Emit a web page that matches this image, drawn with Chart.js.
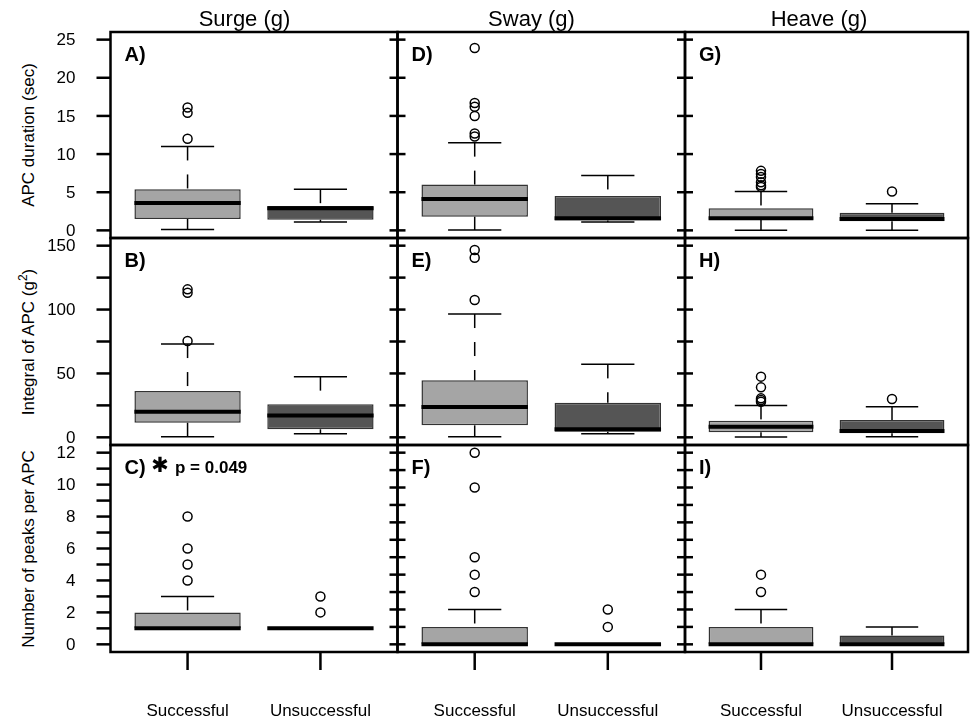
<!DOCTYPE html>
<html>
<head>
<meta charset="utf-8">
<script src="https://cdn.jsdelivr.net/npm/chart.js@4"></script>
<style>
  body { margin: 0; background: #fff; }
  #wrap { position: relative; width: 974px; height: 719px; overflow: hidden; }
  #wrap canvas { position: absolute; left: 0; top: 0; }
  .ytitle {
    position: absolute; left: 28px;
    transform: translate(-50%, -50%) rotate(-90deg);
    white-space: nowrap; font: 17px "Liberation Sans", Arial, sans-serif; line-height: 17px; color: #000;
  }
  .ytitle sup { font-size: 12px; line-height: 0; vertical-align: 7px; }
</style>
</head>
<body>
<div id="wrap"></div>
<script>
// groups on the x axis, motion axes as columns, measures as rows
const groups = ["Successful", "Unsuccessful"];
const motions = ["Surge (g)", "Sway (g)", "Heave (g)"];
const measures = ["APC duration (sec)", "Integral of APC (g<sup>2</sup>)", "Number of peaks per APC"];

// [lower whisker, Q1, median, Q3, upper whisker] for Successful, Unsuccessful
const durSurge = [[0.1, 1.5, 3.6, 5.4, 11.0], [1.1, 1.4, 2.9, 3.2, 5.4]];
const durSurgeOut = [[12.0, 15.4, 16.1], []];
const durSway = [[0.05, 1.8, 4.1, 6.0, 11.5], [1.1, 1.3, 1.6, 4.5, 7.2]];
const durSwayOut = [[12.3, 12.7, 15.0, 16.2, 16.7, 23.9], []];
const durHeave = [[0.0, 1.4, 1.6, 2.9, 5.1], [0.0, 1.2, 1.5, 2.3, 3.5]];
const durHeaveOut = [[5.7, 5.9, 6.3, 7.0, 7.4, 7.8], [5.1]];

const intSurge = [[0.5, 11.5, 20.1, 36.3, 73.0], [2.9, 6.3, 17.0, 25.8, 47.5]];
const intSurgeOut = [[75.4, 113.2, 115.8], []];
const intSway = [[0.5, 9.4, 23.7, 44.6, 96.5], [2.9, 4.4, 6.3, 27.1, 57.1]];
const intSwayOut = [[107.5, 140.6, 146.6], []];
const intHeave = [[0.3, 3.9, 8.3, 13.0, 25.0], [0.5, 3.1, 5.0, 13.6, 24.0]];
const intHeaveOut = [[27.9, 29.2, 30.5, 39.1, 47.5], [30.0]];

const peakSurge = [[1, 1, 1, 2, 3], [1, 1, 1, 1, 1]];
const peakSurgeOut = [[4, 5, 6, 8], [2, 3]];
const peakSway = [[0, 0, 0, 1, 2], [0, 0, 0, 0, 0]];
const peakSwayOut = [[3, 4, 5, 9, 11], [1, 2]];
const peakHeave = [[0, 0, 0, 1, 2], [0, 0, 0, 0.5, 1]];
const peakHeaveOut = [[3, 4], []];

// y axis ticks
const durationTicks = [0, 5, 10, 15, 20, 25];
const integralTicks = [0, 25, 50, 75, 100, 125, 150];
const integralLabels = [0, 50, 100, 150];
const peaksTicks = [0, 1, 2, 3, 4, 5, 6, 7, 8, 9, 10, 11, 12];
const peaksLabels = [0, 2, 4, 6, 8, 10, 12];
const peaksTicksSmall = [0, 1, 2, 3, 4, 5, 6, 7, 8, 9, 10, 11];

const W = 974, H = 719;
const colEdges = [110.5, 397.5, 685, 972];
const rowEdges = [32, 238, 445, 652];
const FONT = '"Liberation Sans", Arial, sans-serif';

const rowAxes = [
  { min: -1, max: 26, ticks: durationTicks, labels: durationTicks },
  { min: -6, max: 156, ticks: integralTicks, labels: integralLabels },
  { min: -0.48, max: 12.48, ticks: peaksTicks, labels: peaksLabels },
];
const smallPeaksAxis = { min: -0.44, max: 11.44, ticks: peaksTicksSmall, labels: [] };

const panels = [
  { letter: "A)", row: 0, col: 0, stats: durSurge, out: durSurgeOut },
  { letter: "D)", row: 0, col: 1, stats: durSway, out: durSwayOut },
  { letter: "G)", row: 0, col: 2, stats: durHeave, out: durHeaveOut },
  { letter: "B)", row: 1, col: 0, stats: intSurge, out: intSurgeOut },
  { letter: "E)", row: 1, col: 1, stats: intSway, out: intSwayOut },
  { letter: "H)", row: 1, col: 2, stats: intHeave, out: intHeaveOut },
  { letter: "C)", row: 2, col: 0, stats: peakSurge, out: peakSurgeOut, note: "p = 0.049" },
  { letter: "F)", row: 2, col: 1, stats: peakSway, out: peakSwayOut },
  { letter: "I)", row: 2, col: 2, stats: peakHeave, out: peakHeaveOut },
];

const wrap = document.getElementById("wrap");

// row titles as html (for the superscript)
measures.forEach((m, r) => {
  const d = document.createElement("div");
  d.className = "ytitle";
  d.style.top = (rowEdges[r] + rowEdges[r + 1]) / 2 + "px";
  d.innerHTML = m;
  wrap.appendChild(d);
});

function line(ctx, x0, y0, x1, y1) {
  ctx.beginPath();
  ctx.moveTo(x0, y0);
  ctx.lineTo(x1, y1);
  ctx.stroke();
}

function panelPlugin(p, axis) {
  return {
    id: "panel" + p.row + p.col,
    beforeDatasetsDraw(chart) {
      const { ctx, scales: { x, y } } = chart;
      const capHalf = x.getPixelForValue(1.2) - x.getPixelForValue(1);
      ctx.save();
      ctx.strokeStyle = "#000";
      ctx.lineWidth = 1.5;
      p.stats.forEach((s, i) => {
        const cx = x.getPixelForValue(i + 1);
        [[s[4], s[3]], [s[0], s[1]]].forEach(([end, hinge]) => {
          const y0 = y.getPixelForValue(end);
          const y1 = y.getPixelForValue(hinge);
          if (Math.abs(y1 - y0) > 0.5) {
            ctx.setLineDash([14, 14]);
            line(ctx, cx, y0, cx, y1);
          }
          ctx.setLineDash([]);
          line(ctx, cx - capHalf, y0, cx + capHalf, y0);
        });
      });
      ctx.restore();
    },
    afterDatasetsDraw(chart) {
      const { ctx, scales: { x, y } } = chart;
      const boxHalf = x.getPixelForValue(1.4) - x.getPixelForValue(1);
      ctx.save();
      ctx.strokeStyle = "#000";
      ctx.lineWidth = 4;
      p.stats.forEach((s, i) => {
        const cx = x.getPixelForValue(i + 1);
        const my = y.getPixelForValue(s[2]);
        line(ctx, cx - boxHalf, my, cx + boxHalf, my);
      });
      ctx.restore();
    },
    afterDraw(chart) {
      const { ctx, chartArea: a, scales: { x, y } } = chart;
      ctx.save();
      ctx.strokeStyle = "#000";
      ctx.fillStyle = "#000";
      ctx.lineWidth = 2.5;
      ctx.strokeRect(a.left, a.top, a.right - a.left, a.bottom - a.top);

      // y ticks
      axis.ticks.forEach((t) => {
        const ty = y.getPixelForValue(t);
        if (p.col === 0) line(ctx, a.left - 14, ty, a.left, ty);
        else line(ctx, a.left - 8, ty, a.left + 8, ty);
      });
      if (p.col === 0) {
        ctx.font = "17px " + FONT;
        ctx.textAlign = "right";
        ctx.textBaseline = "middle";
        axis.labels.forEach((t) => {
          ctx.fillText(String(t), a.left - 35, y.getPixelForValue(t) + 1);
        });
      }

      // x ticks on the bottom row
      if (p.row === 2) {
        ctx.font = "17px " + FONT;
        ctx.textAlign = "center";
        ctx.textBaseline = "alphabetic";
        groups.forEach((g, i) => {
          const cx = x.getPixelForValue(i + 1);
          line(ctx, cx, a.bottom, cx, a.bottom + 18);
          ctx.fillText(g, cx, 716);
        });
      }

      // column titles
      if (p.row === 0) {
        ctx.font = "22px " + FONT;
        ctx.textAlign = "center";
        ctx.textBaseline = "alphabetic";
        ctx.fillText(motions[p.col], a.left + 134, 26);
      }

      // panel letter
      ctx.font = "bold 20px " + FONT;
      ctx.textAlign = "left";
      ctx.textBaseline = "alphabetic";
      ctx.fillText(p.letter, a.left + 14, a.top + 28.5);

      if (p.note) {
        ctx.font = "bold 21px \"DejaVu Sans\", sans-serif";
        ctx.textAlign = "center";
        ctx.textBaseline = "middle";
        ctx.fillText("\u2731", a.left + 49.5, a.top + 22);
        ctx.font = "bold 17px " + FONT;
        ctx.textAlign = "left";
        ctx.textBaseline = "alphabetic";
        ctx.fillText(p.note, a.left + 64.5, a.top + 27.7);
      }
      ctx.restore();
    },
  };
}

panels.forEach((p) => {
  const axis = p.row === 2 && p.col > 0 ? smallPeaksAxis : rowAxes[p.row];
  const canvas = document.createElement("canvas");
  canvas.width = W;
  canvas.height = H;
  wrap.appendChild(canvas);

  new Chart(canvas, {
    type: "bar",
    data: {
      datasets: [
        {
          label: "box",
          data: p.stats.map((s, i) => ({ x: i + 1, y: [s[1], s[3]] })),
          backgroundColor: ["#a5a5a5", "#555555"],
          borderColor: "#333",
          borderWidth: 1.5,
          borderSkipped: false,
          barPercentage: 1,
          categoryPercentage: 0.8,
        },
        {
          type: "scatter",
          label: "outliers",
          data: p.out.flatMap((vals, i) => vals.map((v) => ({ x: i + 1, y: v }))),
          pointRadius: 4.5,
          pointBorderWidth: 1.5,
          pointBorderColor: "#000",
          pointBackgroundColor: "rgba(0,0,0,0)",
          showLine: false,
        },
      ],
    },
    options: {
      responsive: false,
      animation: false,
      devicePixelRatio: 1,
      events: [],
      layout: {
        padding: {
          left: colEdges[p.col],
          right: W - colEdges[p.col + 1],
          top: rowEdges[p.row],
          bottom: H - rowEdges[p.row + 1],
        },
      },
      plugins: { legend: { display: false }, tooltip: { enabled: false } },
      scales: {
        x: {
          type: "linear",
          display: false,
          offset: false,
          min: 0.42,
          max: 2.58,
          afterBuildTicks: (s) => {
            s.ticks = groups.map((g, i) => ({ value: i + 1 }));
          },
        },
        y: {
          type: "linear",
          display: false,
          min: axis.min,
          max: axis.max,
        },
      },
    },
    plugins: [panelPlugin(p, axis)],
  });
});
</script>
</body>
</html>
